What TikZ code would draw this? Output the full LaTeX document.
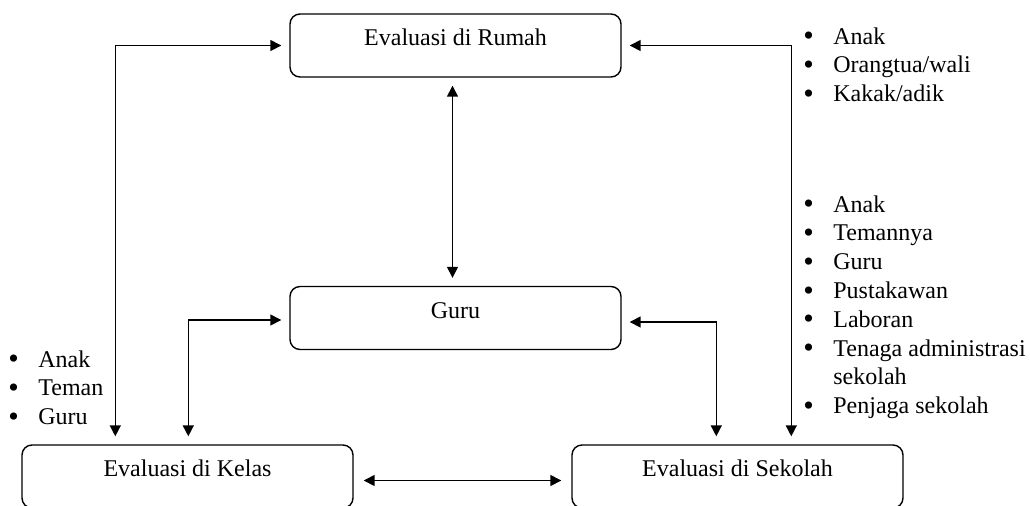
\documentclass[tikz,border=0pt]{standalone}
\usepackage{fontspec}
\setmainfont{Liberation Serif}
\usetikzlibrary{calc, arrows.meta, positioning}
\newcommand{\lbul}{\raisebox{-.8pt}{\fontsize{15}{14.4}\selectfont\textbullet}}

\begin{document}
\begin{tikzpicture}[x=.5pt, y=-.5pt,
    box/.style = {draw, rounded corners=5pt, line width=.7pt, inner sep=0pt,
      minimum width=165.5pt, minimum height=31.5pt, text height=8pt, text depth=8pt,
      font=\fontsize{12}{14.4}\selectfont},
    link/.style = {{Triangle[length=5.5pt,width=5.5pt]}-{Triangle[length=5.5pt,width=5.5pt]},
      line width=.75pt, shorten <=4pt, shorten >=4pt},
    list/.style = {anchor=base west, inner sep=0pt, font=\fontsize{12}{14.4}\selectfont}]
  \clip (0, 0) rectangle (1030, 505);
  \node[box] (rumah) at (455.5, 45.5) {Evaluasi di Rumah};
  \node[box] (guru) at (455.5, 318) {Guru};
  \node[box] (kelas) at (187.5, 476.5) {Evaluasi di Kelas};
  \node[box] (sekolah) at (737.5, 476.5) {Evaluasi di Sekolah};
  \draw[link] (rumah.west) -| ($(kelas.north west)+(94, 0)$);
  \draw[link] (rumah.east) -| ($(sekolah.north west)+(220, 0)$);
  \draw[link] ($(rumah.south)+(-3, 0)$) -- ($(guru.north)+(-3, 0)$);
  \draw[link] ($(guru.west)+(0, 2)$) -| ($(kelas.north west)+(167, 0)$);
  \draw[link] ($(guru.east)+(0, 4)$) -| ($(sekolah.north west)+(145, 0)$);
  \draw[link, shorten <=5pt, shorten >=5pt] ($(kelas.east)+(0, 4)$) -- ($(sekolah.west)+(0, 4)$);
  \node[list] (listrumah) at (803, 44) {\begin{tabular}[t]{@{}l@{\hspace{9.75pt}}l@{}}
    \lbul & Anak\\ \lbul & Orangtua/wali\\ \lbul & Kakak/adik
  \end{tabular}};
  \node[list] (listsekolah) at (803, 212) {\begin{tabular}[t]{@{}l@{\hspace{9.75pt}}l@{}}
    \lbul & Anak\\ \lbul & Temannya\\ \lbul & Guru\\
    \lbul & Pustakawan\\ \lbul & Laboran\\
    \lbul & Tenaga administrasi\\ & sekolah\\ \lbul & Penjaga sekolah
  \end{tabular}};
  \node[list] (listkelas) at (8, 367) {\begin{tabular}[t]{@{}l@{\hspace{9.75pt}}l@{}}
    \lbul & Anak\\ \lbul & Teman\\ \lbul & Guru
  \end{tabular}};
\end{tikzpicture}
\end{document}
